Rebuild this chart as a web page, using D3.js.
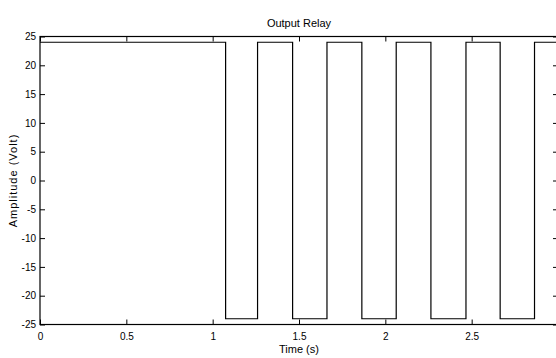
<!DOCTYPE html>
<html>
<head>
<meta charset="utf-8">
<script src="https://cdn.jsdelivr.net/npm/d3@7"></script>
<style>
  body { margin: 0; background: #fff; }
  svg { display: block; }
  text { font-family: "Liberation Sans Narrow", "Liberation Sans", Arial, sans-serif; fill: #000; }
  .tick text { font-size: 10px; }
  .domain { stroke: none; }
  .tick line { stroke: #000; }
</style>
</head>
<body>
<div id="chart"></div>
<script>
let width = 556,
    height = 358,
    margin = ({ top: 36.5, right: -2, bottom: 33.5, left: 40 });

// switching instants (s) of the relay output and the level reached after each
const switchTimes = [0, 1.075, 1.26, 1.463, 1.662, 1.864, 2.063, 2.264, 2.467, 2.665, 2.864, 3.1];
const levels      = [24, -24, 24, -24, 24, -24, 24, -24, 24, -24, 24, 24];
const xTicks = [0, 0.5, 1, 1.5, 2, 2.5];
const xTickLabels = ["0", "0.5", "1", "1.5", "2", "2.5"];
const yTicks = [-25, -20, -15, -10, -5, 0, 5, 10, 15, 20, 25];

const data = switchTimes.map((t, i) => ({ t: t, v: levels[i] }));

const svg = d3.select("#chart")
  .append("svg")
  .attr("width", width)
  .attr("height", height);

let x = d3.scaleLinear()
  .domain([0, 3])
  .range([margin.left, width - margin.right]);

let y = d3.scaleLinear()
  .domain([-25, 25])
  .range([height - margin.bottom, margin.top]);

const tickLen = 5;

svg.append("g")
  .attr("transform", `translate(0,${height - margin.bottom})`)
  .call(d3.axisBottom(x).tickValues(xTicks).tickFormat((d, i) => xTickLabels[i])
    .tickSizeInner(-tickLen).tickSizeOuter(0).tickPadding(8));

svg.append("g")
  .attr("transform", `translate(0,${margin.top})`)
  .call(d3.axisTop(x).tickValues(xTicks).tickFormat("")
    .tickSizeInner(-tickLen).tickSizeOuter(0));

svg.append("g")
  .attr("transform", `translate(${margin.left},0)`)
  .call(d3.axisLeft(y).tickValues(yTicks).tickFormat(d => String(d))
    .tickSizeInner(-tickLen).tickSizeOuter(0).tickPadding(4));

svg.append("g")
  .attr("transform", `translate(${width - margin.right},0)`)
  .call(d3.axisRight(y).tickValues(yTicks).tickFormat("")
    .tickSizeInner(-tickLen).tickSizeOuter(0));

// plot frame
svg.append("rect")
  .attr("x", x(0))
  .attr("y", y(25))
  .attr("width", x(3) - x(0))
  .attr("height", y(-25) - y(25))
  .attr("fill", "none")
  .attr("stroke", "#000")
  .attr("stroke-width", 1.2);

svg.append("defs").append("clipPath").attr("id", "clip")
  .append("rect")
  .attr("x", x(0)).attr("y", y(25))
  .attr("width", x(3) - x(0)).attr("height", y(-25) - y(25));

let line = d3.line()
  .x(d => x(d.t))
  .y(d => y(d.v))
  .curve(d3.curveStepAfter);

svg.append("path")
  .datum(data)
  .attr("clip-path", "url(#clip)")
  .attr("fill", "none")
  .attr("stroke", "#000")
  .attr("stroke-width", 1.2)
  .attr("d", line);

svg.append("text")
  .attr("x", (x(0) + x(3)) / 2)
  .attr("y", 27)
  .attr("text-anchor", "middle")
  .style("font-size", "11px")
  .text("Output Relay");

svg.append("text")
  .attr("x", (x(0) + x(3)) / 2)
  .attr("y", 353)
  .attr("text-anchor", "middle")
  .style("font-size", "11px")
  .text("Time (s)");

svg.append("text")
  .attr("transform", `translate(17,${(y(25) + y(-25)) / 2}) rotate(-90)`)
  .attr("text-anchor", "middle")
  .style("font-size", "11px")
  .style("letter-spacing", "1px")
  .text("Amplitude (Volt)");
</script>
</body>
</html>
